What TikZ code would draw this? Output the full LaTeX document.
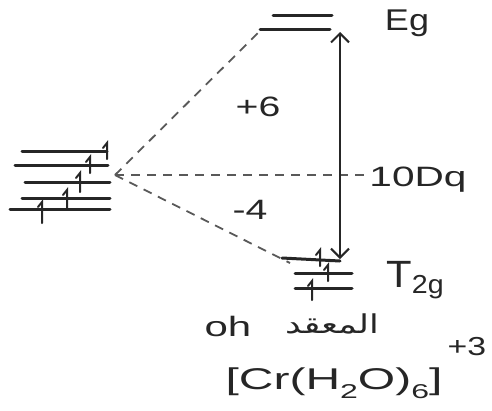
\documentclass[tikz,border=0pt]{standalone}
\usepackage{fontspec}
\setmainfont{Liberation Sans}
\newfontfamily\arabicfont[Script=Arabic]{DejaVu Sans}
\TeXXeTstate=1
\usetikzlibrary{arrows.meta}
\tikzset{
  level/.style={line width=3pt, line cap=round, black!85},
  elec/.style={line width=2pt, line cap=round, black!85},
  dash line/.style={line width=1.8pt, dash pattern=on 9pt off 7pt, black!65},
  gap/.style={line width=2pt, black!85, {Straight Barb[length=9pt,width=18pt]}-{Straight Barb[length=9pt,width=18pt]}},
  lbl/.style={inner sep=0pt, text=black!85},
}
\newcommand{\eup}[3]{\draw[elec] (#1,#3) -- (#1,#2) -- ++(-4,5);}
\begin{document}
\begin{tikzpicture}[x=1pt,y=-1pt]
\useasboundingbox (0,0) rectangle (492,410);
% left degenerate levels
\draw[level] (22,151) -- (107,151);
\draw[level] (15,165) -- (108,165);
\draw[level] (25,182) -- (110,182);
\draw[level] (22,198) -- (110,198);
\draw[level] (10,209) -- (110,209);
\eup{107}{143}{159}
\eup{90}{157}{173}
\eup{80}{173}{192}
\eup{67}{190}{208}
\eup{42}{202}{223}
% Eg levels
\draw[level] (273,15) -- (332,15);
\draw[level] (260,29) -- (330,29);
% T2g levels
\draw[level] (282,258) -- (340,261);
\draw[level] (295,273) -- (352,273);
\draw[level] (295,288) -- (352,288);
\eup{320}{250}{266}
\eup{328}{265}{281}
\eup{312}{281}{300}
% coordinates
\coordinate (c) at (115,175);
\coordinate (egL) at (262,29);
\coordinate (t2L) at (290,263);
\coordinate (dq) at (368,175);
\coordinate (top) at (340,32);
\coordinate (bot) at (340,259);
\draw[dash line] (c) -- (egL);
\draw[dash line] (c) -- (dq);
\draw[dash line] (c) -- (t2L);
\draw[gap] (top) -- (bot);
% labels
\node[lbl] (eg) at (407,23) {\fontsize{30}{30}\selectfont\scalebox{1.2}[1]{Eg}};
\node[lbl] (p6) at (258,107) {\fontsize{28}{28}\selectfont\scalebox{1.4}[1]{+6}};
\node[lbl] (m4) at (250,210) {\fontsize{28}{28}\selectfont\scalebox{1.4}[1]{-4}};
\node[lbl] (tenDq) at (418,180) {\fontsize{28}{28}\selectfont\scalebox{1.45}[1]{10Dq}};
\node[lbl] (t2g) at (415,280) {\fontsize{38}{38}\selectfont\scalebox{1.1}[1]{T\raisebox{-0.15em}{\fontsize{26}{26}\selectfont 2g}}};
\node[lbl] (oh) at (228,326) {\fontsize{28}{28}\selectfont\scalebox{1.5}[1]{oh}};
\node[lbl] (ar) at (332,324) {\fontsize{26}{26}\selectfont\scalebox{1.35}[1]{\arabicfont\beginR المعقد\endR}};
\node[lbl] (cplx) at (334,383) {\fontsize{30}{30}\selectfont\scalebox{1.6}[1]{[Cr(H\raisebox{-0.3em}{\fontsize{20}{20}\selectfont 2}O)\raisebox{-0.3em}{\fontsize{20}{20}\selectfont 6}]}};
\node[lbl] (chg) at (467,347) {\fontsize{26}{26}\selectfont\scalebox{1.3}[1]{+3}};
\end{tikzpicture}
\end{document}
